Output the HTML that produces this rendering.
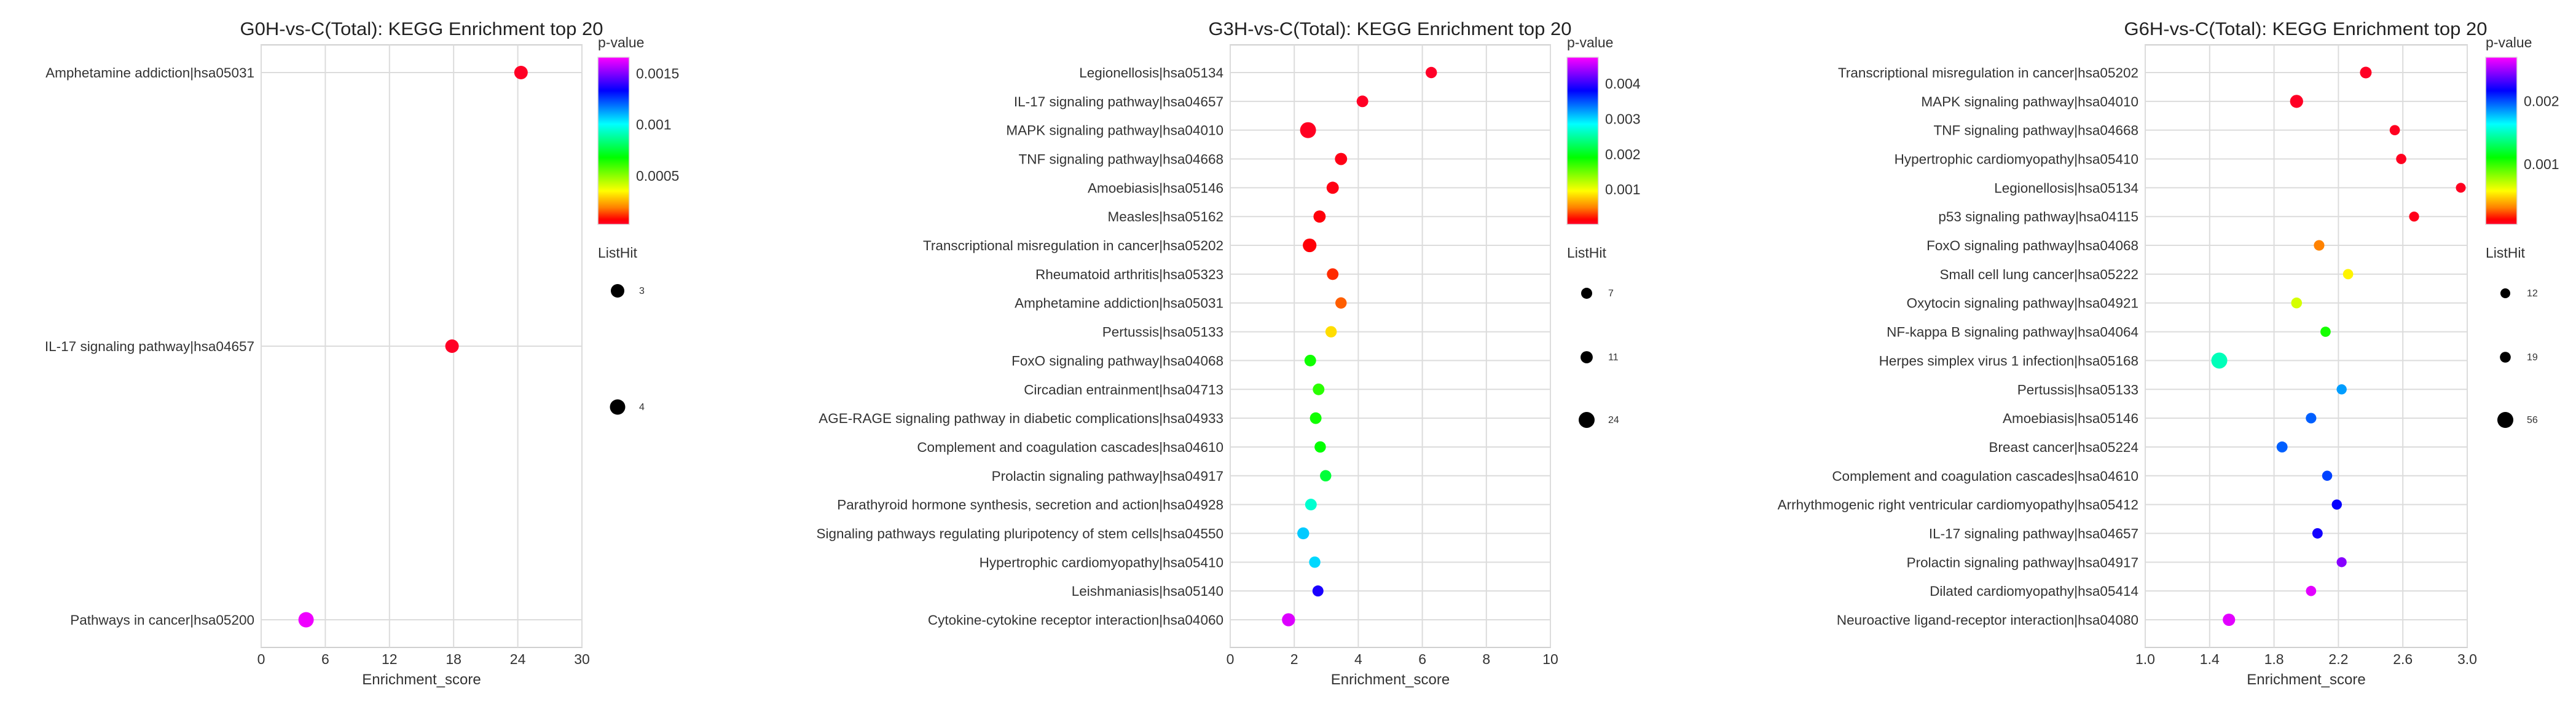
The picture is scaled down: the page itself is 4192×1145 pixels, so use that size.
<!DOCTYPE html>
<html><head><meta charset="utf-8">
<style>
html,body{margin:0;padding:0;background:#fff;}
svg{display:block;font-family:"Liberation Sans",Arial,sans-serif;}
</style></head>
<body>
<svg id="fig" width="4192" height="1145" viewBox="0 0 4192 1145" xmlns="http://www.w3.org/2000/svg">
<defs>
<linearGradient id="rainbow" x1="0" y1="1" x2="0" y2="0">
<stop offset="0" stop-color="hsl(350,100%,50%)"/>
<stop offset="0.03" stop-color="hsl(0,100%,50%)"/>
<stop offset="0.1" stop-color="hsl(30,100%,50%)"/>
<stop offset="0.2" stop-color="hsl(60,100%,50%)"/>
<stop offset="0.3" stop-color="hsl(90,100%,50%)"/>
<stop offset="0.4" stop-color="hsl(120,100%,50%)"/>
<stop offset="0.5" stop-color="hsl(150,100%,50%)"/>
<stop offset="0.6" stop-color="hsl(180,100%,50%)"/>
<stop offset="0.7" stop-color="hsl(210,100%,50%)"/>
<stop offset="0.8" stop-color="hsl(240,100%,50%)"/>
<stop offset="0.9" stop-color="hsl(270,100%,50%)"/>
<stop offset="1" stop-color="hsl(300,100%,50%)"/>
</linearGradient>
</defs>
</svg>
<script>
// ---- Panel 1: G0H ----
const g0Terms = ["Amphetamine addiction|hsa05031","IL-17 signaling pathway|hsa04657","Pathways in cancer|hsa05200"];
const g0Score = [24.3, 17.85, 4.2];
const g0P = [0.00003, 0.00003, 0.00164];
const g0Hits = [3, 3, 4];
const g0XTicks = [0, 6, 12, 18, 24, 30];
const g0PTicks = [0.0005, 0.001, 0.0015];
const g0PTickLabels = ["0.0005", "0.001", "0.0015"];
const g0LegendHits = [3, 4];

// ---- Panel 2: G3H ----
const g3Terms = ["Legionellosis|hsa05134","IL-17 signaling pathway|hsa04657","MAPK signaling pathway|hsa04010","TNF signaling pathway|hsa04668","Amoebiasis|hsa05146","Measles|hsa05162","Transcriptional misregulation in cancer|hsa05202","Rheumatoid arthritis|hsa05323","Amphetamine addiction|hsa05031","Pertussis|hsa05133","FoxO signaling pathway|hsa04068","Circadian entrainment|hsa04713","AGE-RAGE signaling pathway in diabetic complications|hsa04933","Complement and coagulation cascades|hsa04610","Prolactin signaling pathway|hsa04917","Parathyroid hormone synthesis, secretion and action|hsa04928","Signaling pathways regulating pluripotency of stem cells|hsa04550","Hypertrophic cardiomyopathy|hsa05410","Leishmaniasis|hsa05140","Cytokine-cytokine receptor interaction|hsa04060"];
const g3Score = [6.28,4.13,2.43,3.46,3.2,2.79,2.48,3.2,3.46,3.15,2.5,2.76,2.67,2.81,2.98,2.52,2.28,2.64,2.74,1.82];
const g3P = [0.00002,0.00003,0.00004,0.00008,0.00009,0.00012,0.00013,0.00017,0.00036,0.00083,0.00185,0.00175,0.00185,0.00190,0.00212,0.00268,0.00305,0.00300,0.00390,0.00462];
const g3Hits = [8,9,24,11,11,11,16,9,8,8,9,9,9,8,8,9,10,8,7,14];
const g3XTicks = [0, 2, 4, 6, 8, 10];
const g3PTicks = [0.001, 0.002, 0.003, 0.004];
const g3PTickLabels = ["0.001", "0.002", "0.003", "0.004"];
const g3LegendHits = [7, 11, 24];

// ---- Panel 3: G6H ----
const g6Terms = ["Transcriptional misregulation in cancer|hsa05202","MAPK signaling pathway|hsa04010","TNF signaling pathway|hsa04668","Hypertrophic cardiomyopathy|hsa05410","Legionellosis|hsa05134","p53 signaling pathway|hsa04115","FoxO signaling pathway|hsa04068","Small cell lung cancer|hsa05222","Oxytocin signaling pathway|hsa04921","NF-kappa B signaling pathway|hsa04064","Herpes simplex virus 1 infection|hsa05168","Pertussis|hsa05133","Amoebiasis|hsa05146","Breast cancer|hsa05224","Complement and coagulation cascades|hsa04610","Arrhythmogenic right ventricular cardiomyopathy|hsa05412","IL-17 signaling pathway|hsa04657","Prolactin signaling pathway|hsa04917","Dilated cardiomyopathy|hsa05414","Neuroactive ligand-receptor interaction|hsa04080"];
const g6Score = [2.37,1.94,2.55,2.59,2.96,2.67,2.08,2.26,1.94,2.12,1.46,2.22,2.03,1.85,2.13,2.19,2.07,2.22,2.03,1.52];
const g6P = [0.00005,0.00005,0.00006,0.00006,0.00006,0.00007,0.00031,0.00055,0.00066,0.00106,0.00149,0.00184,0.00197,0.00197,0.00203,0.00218,0.00221,0.00245,0.00264,0.00264];
const g6Hits = [25,35,15,15,12,13,17,15,19,15,56,14,17,20,14,14,16,13,15,30];
const g6XTicks = [1.0, 1.4, 1.8, 2.2, 2.6, 3.0];
const g6XTickLabels = ["1.0","1.4","1.8","2.2","2.6","3.0"];
const g6PTicks = [0.001, 0.002];
const g6PTickLabels = ["0.001", "0.002"];
const g6LegendHits = [12, 19, 56];

const NS = "http://www.w3.org/2000/svg";
const svg = document.getElementById("fig");
function mk(tag, attrs, parent) {
  const e = document.createElementNS(NS, tag);
  for (const k in attrs) e.setAttribute(k, attrs[k]);
  (parent || svg).appendChild(e);
  return e;
}
function pColor(p, pmin, pmax) {
  let f = (p - pmin) / (pmax - pmin);
  f = Math.max(0, Math.min(1, f));
  let h;
  if (f < 0.03) h = 350 + f / 0.03 * 10;
  else h = 300 * f;
  h = h % 360;
  return "hsl(" + h.toFixed(1) + ",100%,50%)";
}

function panel(cfg) {
  const g = mk("g", {});
  
  
  const L = cfg.left, R = cfg.right, T = 73, B = 1053;
  const rowTop = 118, rowBot = 1008;
  const n = cfg.terms.length;
  const xS = v => L + (v - cfg.xmin) / (cfg.xmax - cfg.xmin) * (R - L);
  const yS = i => n === 1 ? rowTop : rowTop + i * (rowBot - rowTop) / (n - 1);
  const rS = h => cfg.ra + cfg.rb * h;

  const t = mk("text", {x: cfg.titleX, y: 57, "font-size": 30, fill: "#222", "text-anchor": "middle", textLength: 591, lengthAdjust: "spacingAndGlyphs"}, g);
  t.textContent = cfg.title;
  
  

  const bg = mk("rect", {x: L, y: T, width: R - L, height: B - T, fill: "#fff", stroke: "#d0d0d0", "stroke-width": 2}, g);
  
  

  cfg.xticks.forEach((v, i) => {
    const x = xS(v);
    const ln = mk("line", {x1: x, x2: x, y1: T, y2: B, stroke: "#dcdcdc", "stroke-width": 2}, g);
    
    
    const tl = mk("text", {x: x, y: 1080, "font-size": 23, fill: "#333", "text-anchor": "middle"}, g);
    tl.textContent = cfg.xtickLabels ? cfg.xtickLabels[i] : String(v);
    
    
  });
  const xt = mk("text", {x: (L + R) / 2, y: 1113, "font-size": 24, fill: "#333", "text-anchor": "middle"}, g);
  xt.textContent = "Enrichment_score";
  
  

  cfg.terms.forEach((term, i) => {
    const y = yS(i);
    const ln = mk("line", {x1: L, x2: R, y1: y, y2: y, stroke: "#dcdcdc", "stroke-width": 2}, g);
    
    
    const lb = mk("text", {x: L - 11, y: y + 8, "font-size": 22.5, fill: "#333", "text-anchor": "end"}, g);
    lb.textContent = term;
    
    
  });
  cfg.terms.forEach((term, i) => {
    const c = mk("circle", {cx: xS(cfg.score[i]), cy: yS(i), r: rS(cfg.hits[i]), fill: pColor(cfg.p[i], cfg.pmin, cfg.pmax)}, g);
    
    
  });

  const cbX = cfg.cbX, cbT = 93, cbB = 365;
  const pl = mk("text", {x: cbX, y: 77, "font-size": 23, fill: "#333"}, g);
  pl.textContent = "p-value";
  
  
  const cb = mk("rect", {x: cbX, y: cbT, width: 51, height: cbB - cbT, fill: "url(#rainbow)", stroke: "#ddd", "stroke-width": 1.5}, g);
  
  
  cfg.pticks.forEach((v, i) => {
    const y = cbB - (v - cfg.pmin) / (cfg.pmax - cfg.pmin) * (cbB - cbT);
    const tl = mk("text", {x: cbX + 62, y: y + 8, "font-size": 23, fill: "#333"}, g);
    tl.textContent = cfg.ptickLabels[i];
    
    
  });

  const lh = mk("text", {x: cbX, y: 419, "font-size": 23, fill: "#333"}, g);
  lh.textContent = "ListHit";
  
  
  cfg.legendHits.forEach((h, i) => {
    const y = cfg.legendY[i];
    const c = mk("circle", {cx: cbX + 32, cy: y, r: rS(h), fill: "#000"}, g);
    
    
    const tl = mk("text", {x: cbX + 67, y: y + 5, "font-size": 16, fill: "#333"}, g);
    tl.textContent = String(h);
    
    
  });
}

panel({name: "g0h-panel", title: "G0H-vs-C(Total): KEGG Enrichment top 20", titleX: 686,
  left: 425, right: 947, xmin: 0, xmax: 30, xticks: g0XTicks,
  terms: g0Terms, score: g0Score, p: g0P, hits: g0Hits,
  pmin: 0.000024, pmax: 0.00166, pticks: g0PTicks, ptickLabels: g0PTickLabels,
  cbX: 973, legendHits: g0LegendHits, legendY: [473, 662], ra: 6.5, rb: 1.5});
panel({name: "g3h-panel", title: "G3H-vs-C(Total): KEGG Enrichment top 20", titleX: 2262,
  left: 2002, right: 2523, xmin: 0, xmax: 10, xticks: g3XTicks,
  terms: g3Terms, score: g3Score, p: g3P, hits: g3Hits,
  pmin: 0.00001, pmax: 0.00475, pticks: g3PTicks, ptickLabels: g3PTickLabels,
  cbX: 2550, legendHits: g3LegendHits, legendY: [477, 581, 683], ra: 7.35, rb: 0.235});
panel({name: "g6h-panel", title: "G6H-vs-C(Total): KEGG Enrichment top 20", titleX: 3752,
  left: 3491, right: 4015, xmin: 1.0, xmax: 3.0, xticks: g6XTicks, xtickLabels: g6XTickLabels,
  terms: g6Terms, score: g6Score, p: g6P, hits: g6Hits,
  pmin: 0.00004, pmax: 0.0027, pticks: g6PTicks, ptickLabels: g6PTickLabels,
  cbX: 4045, legendHits: g6LegendHits, legendY: [477, 581, 683], ra: 6.64, rb: 0.114});
</script>
</body></html>
